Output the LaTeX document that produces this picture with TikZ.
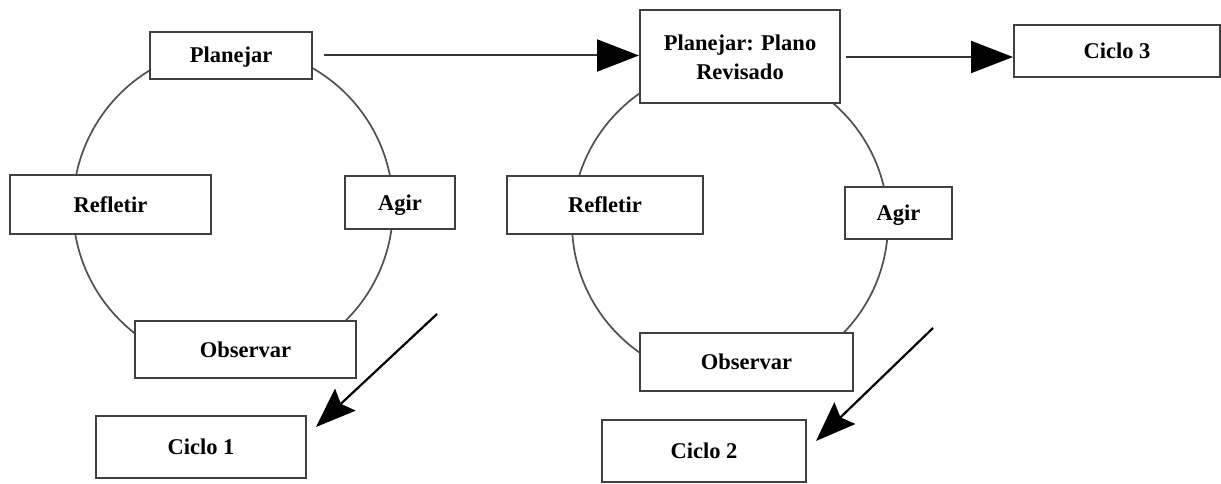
\documentclass[tikz,border=0pt]{standalone}
\usepackage{fontspec}
\setmainfont{Liberation Serif}
\usetikzlibrary{arrows.meta}
\definecolor{boxline}{HTML}{404040}
\definecolor{cycline}{HTML}{505050}
\tikzset{
  box/.style={draw=boxline, line width=2pt, fill=white, inner sep=0pt,
    font=\fontsize{22.5}{29}\selectfont\bfseries, align=center},
  onebox/.style={box, text height=17pt, text depth=2pt},
  cyc/.style={draw=cycline, line width=1.7pt},
  harr/.style={draw=black!80, line width=2pt, -{Triangle[length=42pt,width=32pt,fill=black,color=black]}},
  darr/.style={draw=black, line width=2.2pt, -{Stealth[length=40pt,width=30pt,inset=6pt]}}
}
\begin{document}
\begin{tikzpicture}[x=1pt,y=-1pt]
\useasboundingbox[fill=white] (0,0) rectangle (1221,484);
% cycles
\draw[cyc] (233,207) circle[radius=160];
\draw[cyc] (730,223) circle[radius=158];
% left cycle boxes
\node[onebox, minimum width=162pt, minimum height=47pt] (plan1) at (231,55.5) {Planejar};
\node[onebox, minimum width=201pt, minimum height=59pt] (ref1) at (110.5,204.5) {Refletir};
\node[onebox, minimum width=110pt, minimum height=53pt] (agir1) at (400,202.5) {Agir};
\node[onebox, minimum width=221pt, minimum height=57pt] (obs1) at (245.5,349.5) {Observar};
\node[onebox, minimum width=210pt, minimum height=62pt] (ciclo1) at (201,447) {Ciclo 1};
% right cycle boxes
\node[box, minimum width=200pt, minimum height=93pt] (plan2) at (740,57) {Planejar: Plano\\Revisado};
\node[onebox, minimum width=196pt, minimum height=58pt] (ref2) at (605,205) {Refletir};
\node[onebox, minimum width=107pt, minimum height=52pt] (agir2) at (898.5,213) {Agir};
\node[onebox, minimum width=213pt, minimum height=58pt] (obs2) at (746.5,362) {Observar};
\node[onebox, minimum width=204pt, minimum height=62pt] (ciclo2) at (704,451) {Ciclo 2};
\node[onebox, minimum width=206pt, minimum height=52pt] (ciclo3) at (1117,51) {Ciclo 3};
% connectors
\draw[harr] ([xshift=11pt]plan1.east) -- (plan1.east -| plan2.west);
\draw[harr] ([xshift=5pt]plan2.east) -- ([yshift=-6pt]ciclo3.west);
\coordinate (s1) at (437,314);
\coordinate (s2) at (933,328);
\draw[darr] (s1) -- ([xshift=9pt,yshift=-12pt]ciclo1.north east);
\draw[darr] (s2) -- ([xshift=9pt,yshift=-22pt]ciclo2.north east);
\end{tikzpicture}
\end{document}
